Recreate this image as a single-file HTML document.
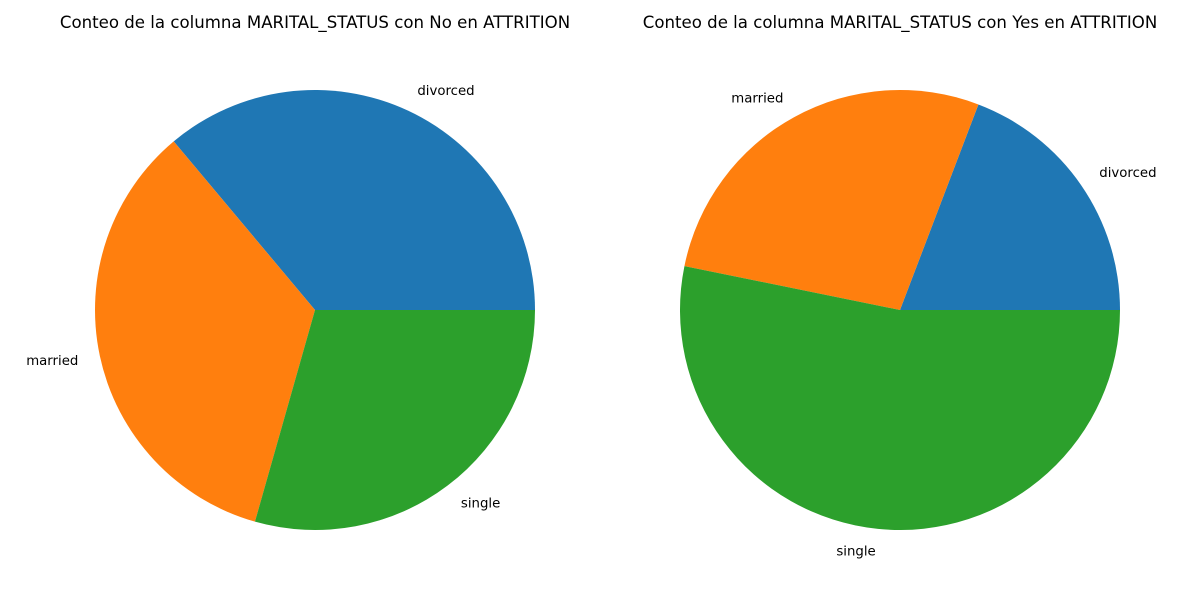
<!DOCTYPE html>
<html><head><meta charset="utf-8"><style>
html,body{margin:0;padding:0;background:#fff;}
svg{display:block;font-family:"DejaVu Sans","Liberation Sans",sans-serif;}
</style></head><body>
<svg id="chart" width="1200" height="600" viewBox="0 0 1200 600"></svg>
<script>
const categories = ["divorced", "married", "single"];
const noAttritionValues = [361, 345, 294];
const yesAttritionValues = [192, 276, 532];
const titles = ["Conteo de la columna MARITAL_STATUS con No en ATTRITION", "Conteo de la columna MARITAL_STATUS con Yes en ATTRITION"];
const colors = ["#1f77b4", "#ff7f0e", "#2ca02c"];
const NS = "http://www.w3.org/2000/svg";
const svg = document.getElementById("chart");

function drawPie(values, cx, cy, r, title, idx) {
  const g = document.createElementNS(NS, "g");
  
  
  svg.appendChild(g);
  const t = document.createElementNS(NS, "text");
  
  
  t.setAttribute("x", cx); t.setAttribute("y", 28);
  t.setAttribute("text-anchor", "middle"); t.setAttribute("font-size", "16.6");
  t.textContent = title;
  g.appendChild(t);
  const total = values.reduce((a, b) => a + b, 0);
  let a0 = 0;
  values.forEach((v, i) => {
    const a1 = a0 + v / total * 2 * Math.PI;
    const x0 = cx + r * Math.cos(a0), y0 = cy - r * Math.sin(a0);
    const x1 = cx + r * Math.cos(a1), y1 = cy - r * Math.sin(a1);
    const large = (a1 - a0) > Math.PI ? 1 : 0;
    const p = document.createElementNS(NS, "path");
    
    
    p.setAttribute("d", `M${cx},${cy} L${x0},${y0} A${r},${r} 0 ${large} 0 ${x1},${y1} Z`);
    p.setAttribute("fill", colors[i]);
    g.appendChild(p);
    const am = (a0 + a1) / 2;
    const lx = cx + 1.1 * r * Math.cos(am), ly = cy - 1.1 * r * Math.sin(am);
    const l = document.createElementNS(NS, "text");
    
    
    l.setAttribute("x", lx); l.setAttribute("y", ly + 4.5);
    l.setAttribute("text-anchor", Math.cos(am) >= 0 ? "start" : "end");
    l.setAttribute("font-size", "13.3");
    l.textContent = categories[i];
    g.appendChild(l);
    a0 = a1;
  });
}
drawPie(noAttritionValues, 315, 310, 220, titles[0], 0);
drawPie(yesAttritionValues, 900, 310, 220, titles[1], 1);
</script>
</body></html>
